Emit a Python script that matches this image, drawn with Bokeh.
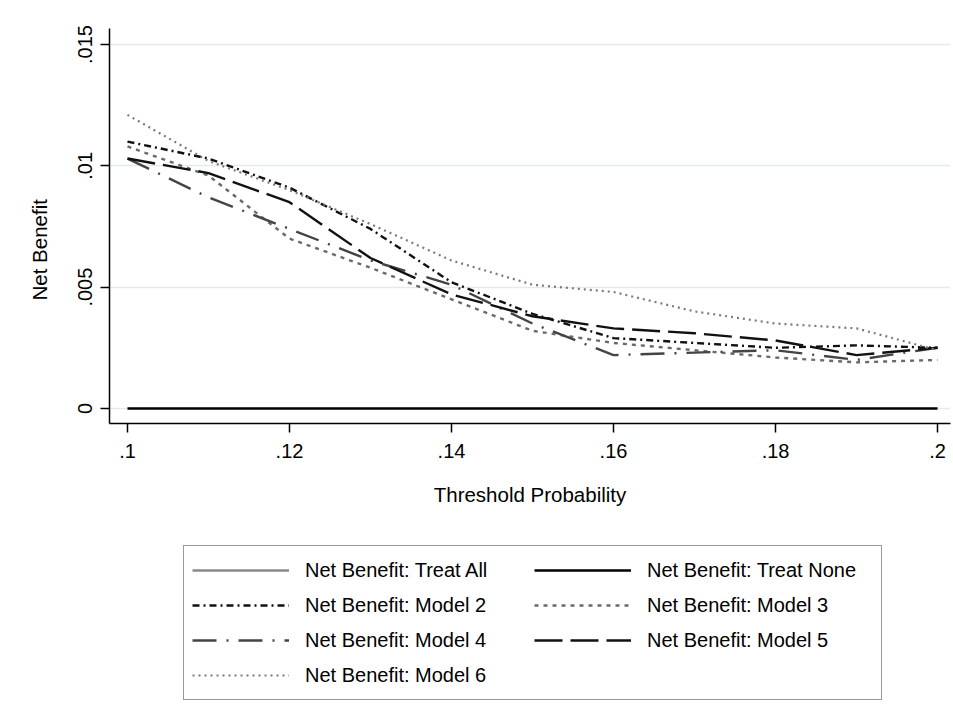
from bokeh.plotting import figure
from bokeh.models import FixedTicker, Legend, LegendItem, Range1d, Title
from bokeh.layouts import column
from bokeh.embed import file_html
from bokeh.resources import INLINE

# ---- data ----
thresholds = [0.10, 0.11, 0.12, 0.13, 0.14, 0.15, 0.16, 0.17, 0.18, 0.19, 0.20]
treat_all_x = []   # off-scale (not visible in the chart)
treat_all = []
treat_none = [0.0, 0.0, 0.0, 0.0, 0.0, 0.0, 0.0, 0.0, 0.0, 0.0, 0.0]
model2 = [0.0110, 0.0103, 0.0091, 0.0074, 0.0052, 0.0039, 0.0029, 0.0027, 0.0025, 0.0026, 0.0025]
model3 = [0.0108, 0.0096, 0.0070, 0.0058, 0.0045, 0.0032, 0.0027, 0.0024, 0.0021, 0.0019, 0.0020]
model4 = [0.0103, 0.0087, 0.0074, 0.0061, 0.0051, 0.0035, 0.0022, 0.0023, 0.0024, 0.0020, 0.0025]
model5 = [0.0103, 0.0097, 0.0085, 0.0062, 0.0047, 0.0038, 0.0033, 0.0031, 0.0028, 0.0022, 0.0025]
model6 = [0.0121, 0.0102, 0.0090, 0.0076, 0.0061, 0.0051, 0.0048, 0.0040, 0.0035, 0.0033, 0.0024]

x_ticks = [0.10, 0.12, 0.14, 0.16, 0.18, 0.20]
x_tick_labels = [".1", ".12", ".14", ".16", ".18", ".2"]
y_ticks = [0.0, 0.005, 0.010, 0.015]
y_tick_labels = ["0", ".005", ".01", ".015"]

series_labels = ["Net Benefit: Treat All", "Net Benefit: Treat None", "Net Benefit: Model 2",
                 "Net Benefit: Model 3", "Net Benefit: Model 4", "Net Benefit: Model 5",
                 "Net Benefit: Model 6"]

FONT = "Liberation Sans"
FS = "20px"
FS_T = "20.5px"

styles = [
    dict(line_color="#8a8a8a", line_width=2.4),
    dict(line_color="black", line_width=2.4),
    dict(line_color="#111111", line_width=2.4, line_dash="7 4 2 4"),
    dict(line_color="#6a6a6a", line_width=2.4, line_dash="4 5"),
    dict(line_color="#444444", line_width=2.4, line_dash="24 10 2 10"),
    dict(line_color="#111111", line_width=2.4, line_dash="28 8"),
    dict(line_color="#7a7a7a", line_width=2.2, line_dash="2 4"),
]

p = figure(width=953, height=530,
           x_range=Range1d(0.09778, 0.2016), y_range=Range1d(-0.00062, 0.01566),
           output_backend="svg", toolbar_location=None,
           min_border_left=109, min_border_top=28, min_border_right=3, min_border_bottom=107,
           background_fill_color="white", border_fill_color="white")
p.outline_line_color = None

# grid
p.xgrid.visible = False
p.ygrid.ticker = FixedTicker(ticks=y_ticks)
p.ygrid.grid_line_color = "#e2eaee"
p.ygrid.grid_line_width = 1.5

# axes
p.xaxis.ticker = FixedTicker(ticks=x_ticks)
p.xaxis.major_label_overrides = {t: l for t, l in zip(x_ticks, x_tick_labels)}
p.yaxis.ticker = FixedTicker(ticks=y_ticks)
p.yaxis.major_label_overrides = {t: l for t, l in zip(y_ticks, y_tick_labels)}
p.yaxis.major_label_orientation = "vertical"
for ax in (p.xaxis[0], p.yaxis[0]):
    ax.axis_line_color = "black"
    ax.axis_line_width = 1.5
    ax.major_tick_line_color = "black"
    ax.major_tick_line_width = 1.5
    ax.major_tick_out = 9
    ax.major_tick_in = 0
    ax.minor_tick_line_color = None
    ax.major_label_text_font = FONT
    ax.major_label_text_font_size = FS
    ax.major_label_text_color = "black"
    ax.axis_label_text_font = FONT
    ax.axis_label_text_font_size = FS_T
    ax.axis_label_text_font_style = "normal"
    ax.axis_label_text_color = "black"
p.xaxis.axis_label = "Threshold Probability"
p.xaxis.major_label_standoff = 11
p.xaxis.axis_label_standoff = 22
p.yaxis.major_label_standoff = 8

ytitle = Title(text="Net Benefit", align="left", offset=123, standoff=50,
               text_font=FONT, text_font_size=FS_T, text_font_style="normal",
               text_color="black")
p.add_layout(ytitle, "left")

# series
xs = [treat_all_x] + [thresholds] * 6
ys = [treat_all, treat_none, model2, model3, model4, model5, model6]
for x, y, st in zip(xs, ys, styles):
    p.line(x, y, **st)

# legend panel (separate canvas below the chart); its key renderers hold no visible data
NAN = float("nan")
lg = figure(width=953, height=175, x_range=Range1d(0, 1), y_range=Range1d(0, 1),
            output_backend="svg", toolbar_location=None,
            min_border_left=0, min_border_right=0, min_border_top=0, min_border_bottom=0,
            background_fill_color="white", border_fill_color="white")
lg.outline_line_color = None
lg.axis.visible = False
lg.grid.visible = False
items = []
for lab, st in zip(series_labels, styles):
    r = lg.line([NAN, NAN], [NAN, NAN], **st)
    items.append(LegendItem(label=lab, renderers=[r]))
legend = Legend(items=items, orientation="horizontal", ncols=2,
                location=(74, 5),
                label_text_font=FONT, label_text_font_size=FS, label_text_color="black",
                glyph_width=97, glyph_height=32, label_height=32, label_width=226,
                label_standoff=16, spacing=3, padding=8, margin=0,
                border_line_color="#333333", border_line_width=1.5,
                background_fill_color="white", background_fill_alpha=1.0)
lg.add_layout(legend, "center")

layout = column(p, lg, spacing=0)
open("out.html", "w").write(file_html(layout, INLINE))
